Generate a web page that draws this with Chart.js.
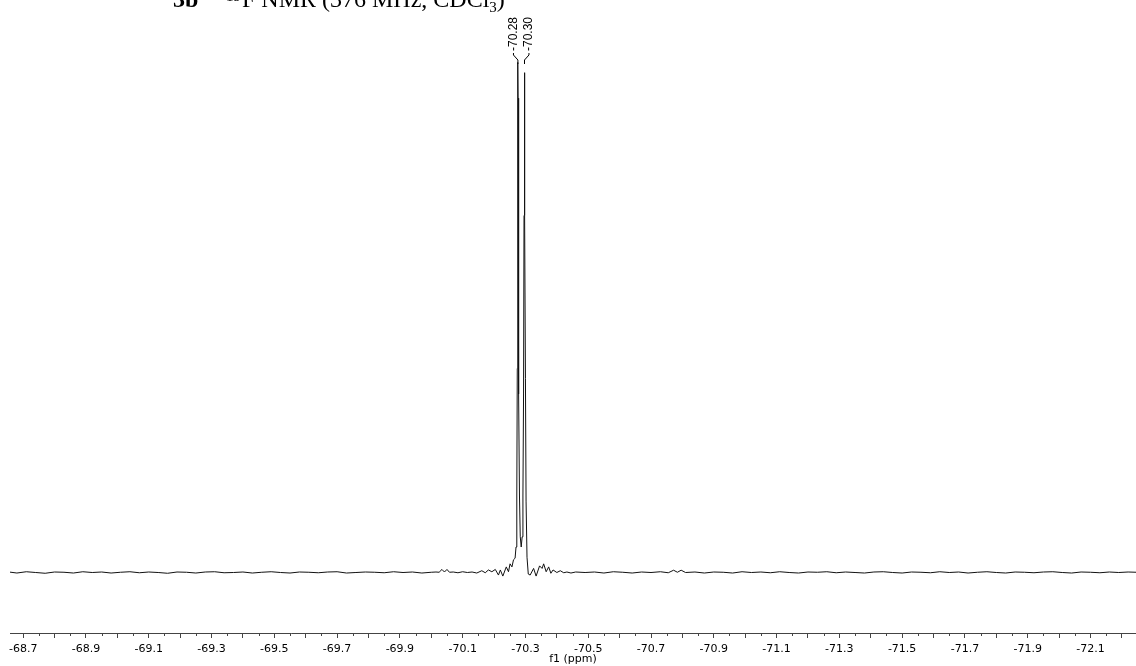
<!DOCTYPE html>
<html>
<head>
<meta charset="utf-8">
<script src="https://cdn.jsdelivr.net/npm/chart.js@4.4.1/dist/chart.umd.min.js"></script>
<style>
  html, body { margin: 0; padding: 0; background: #fff; }
  #wrap { position: relative; width: 1136px; height: 666px; }
</style>
</head>
<body>
<div id="wrap"><canvas id="c" width="1136" height="666"></canvas></div>
<script>
// chemical shift (ppm) and intensity (baseline = 0, tallest peak = 100)
const shifts = [
  -68.655, -68.68, -68.71, -68.74, -68.77, -68.80, -68.83, -68.86, -68.89, -68.92,
  -68.95, -68.98, -69.01, -69.04, -69.07, -69.10, -69.13, -69.16, -69.19, -69.22,
  -69.25, -69.28, -69.31, -69.34, -69.37, -69.40, -69.43, -69.46, -69.49, -69.52,
  -69.55, -69.58, -69.61, -69.64, -69.67, -69.70, -69.73, -69.76, -69.79, -69.82,
  -69.85, -69.88, -69.91, -69.94, -69.97, -70.00,
  -70.015, -70.025, -70.034, -70.042, -70.050, -70.058, -70.07, -70.085, -70.10, -70.115,
  -70.13, -70.145, -70.161, -70.172, -70.182, -70.193, -70.204, -70.214, -70.220, -70.228,
  -70.239, -70.246, -70.251, -70.257, -70.262, -70.267, -70.270, -70.2725, -70.274, -70.275,
  -70.2755, -70.276, -70.2765, -70.2775, -70.279, -70.281, -70.2835, -70.2865, -70.2895, -70.292,
  -70.294, -70.2955, -70.2965, -70.297, -70.2975, -70.2985, -70.300, -70.302, -70.305, -70.309,
  -70.315, -70.326, -70.334, -70.345, -70.353, -70.358, -70.366, -70.374, -70.381, -70.388,
  -70.400, -70.411, -70.422, -70.432, -70.445, -70.46,
  -70.49, -70.52, -70.55, -70.58, -70.61, -70.64, -70.67, -70.70, -70.73, -70.755,
  -70.772, -70.784, -70.796, -70.81, -70.84, -70.87, -70.90, -70.93, -70.96, -70.99,
  -71.02, -71.05, -71.08, -71.11, -71.14, -71.17, -71.20, -71.23, -71.26, -71.29,
  -71.32, -71.35, -71.38, -71.41, -71.44, -71.47, -71.50, -71.53, -71.56, -71.59,
  -71.62, -71.65, -71.68, -71.71, -71.74, -71.77, -71.80, -71.83, -71.86, -71.89,
  -71.92, -71.95, -71.98, -72.01, -72.04, -72.07, -72.10, -72.13, -72.16, -72.19,
  -72.22, -72.245
];
const intensity = [
  0.1, -0.1, 0.15, 0, -0.15, 0.1, 0.05, -0.1, 0.15, 0,
  0.1, -0.1, 0.05, 0.15, -0.05, 0.1, 0, -0.15, 0.1, 0.05,
  -0.1, 0.1, 0.15, -0.05, 0, 0.1, -0.1, 0.05, 0.15, 0,
  -0.1, 0.1, 0.05, -0.05, 0.1, 0.15, -0.1, 0, 0.1, 0.05,
  -0.05, 0.15, 0, 0.1, -0.1, 0.05,
  0.1, 0.05, 0.6, 0.1, 0.6, 0.05, 0.1, -0.05, 0.15, 0,
  0.1, -0.1, 0.35, -0.05, 0.5, 0.15, 0.6, -0.5, 0.5, -0.7,
  1.1, 0.15, 1.7, 1.1, 2.5, 2.8, 5, 15, 40, 70,
  88, 100, 93, 70, 35, 15, 7, 5, 7, 15,
  35, 70, 90, 98, 92, 70, 38, 14, 3, -0.3,
  -0.5, 0.8, -0.7, 1.3, 0.8, 1.7, 0.15, 1.1, -0.15, 0.5,
  0, 0.35, -0.05, 0.1, -0.1, 0.1,
  0, 0.1, -0.1, 0.15, 0.05, -0.1, 0.1, 0, 0.15, -0.05,
  0.45, 0.05, 0.45, 0, 0.1, -0.1, 0.1, 0.05, -0.1, 0.15,
  0, 0.1, -0.05, 0.15, 0, -0.1, 0.1, 0.05, 0.15, -0.05,
  0.1, 0, -0.1, 0.1, 0.15, 0, -0.1, 0.1, 0.05, -0.05,
  0.15, 0, 0.1, -0.1, 0.05, 0.15, 0, -0.1, 0.1, 0.05,
  -0.05, 0.1, 0.15, 0, -0.1, 0.1, 0.05, -0.05, 0.1, 0,
  0.1, 0.05
];
// peak picking annotations
const peakLabels = ['-70.28', '-70.30'];
const peakShifts = [-70.276, -70.297];
// axis range
const axisMin = -72.245;
const axisMax = -68.658;

const points = shifts.map((s, i) => ({ x: s, y: intensity[i] }));

const annotatePlugin = {
  id: 'annotate',
  afterDatasetsDraw(chart) {
    const { ctx } = chart;
    const xs = chart.scales.x;
    ctx.save();
    // minor ticks every 0.05 ppm
    const axisY = chart.chartArea.bottom;
    ctx.strokeStyle = '#444';
    ctx.lineWidth = 1;
    const kStart = Math.ceil(axisMin * 20), kEnd = Math.floor(axisMax * 20);
    for (let k = kStart; k <= kEnd; k++) {
      if (Math.abs(k) % 2 === 1) {
        const px = Math.round(xs.getPixelForValue(k / 20)) + 0.5;
        ctx.beginPath();
        ctx.moveTo(px, axisY);
        ctx.lineTo(px, axisY + 3);
        ctx.stroke();
      }
    }
    // peak labels with connectors
    const pxPeaks = peakShifts.map(v => xs.getPixelForValue(v));
    const mid = (pxPeaks[0] + pxPeaks[pxPeaks.length - 1]) / 2;
    const gap = 15.5;
    ctx.strokeStyle = '#000';
    ctx.fillStyle = '#000';
    ctx.font = '12px "Liberation Sans", Arial, sans-serif';
    peakLabels.forEach((lab, i) => {
      const lx = mid + (i - (peakLabels.length - 1) / 2) * gap;
      const pk = pxPeaks[i];
      ctx.save();
      ctx.translate(lx, 51);
      ctx.rotate(-Math.PI / 2);
      ctx.textAlign = 'left';
      ctx.textBaseline = 'middle';
      ctx.fillText(lab, 0, 0);
      ctx.restore();
      ctx.beginPath();
      ctx.moveTo(lx, 53);
      ctx.lineTo(lx, 55);
      ctx.lineTo(pk, 60);
      ctx.lineTo(pk, 64);
      ctx.stroke();
    });
    // header text (clipped at top)
    let x = 173;
    const base = 7;
    ctx.textAlign = 'left';
    ctx.textBaseline = 'alphabetic';
    ctx.font = 'bold 24px "Liberation Serif", "Times New Roman", serif';
    ctx.fillText('3b', x, base);
    x = 226;
    ctx.font = '15px "Liberation Serif", "Times New Roman", serif';
    ctx.fillText('19', x, base - 6);
    x += ctx.measureText('19').width + 1;
    ctx.font = '24px "Liberation Serif", "Times New Roman", serif';
    const main = 'F NMR (376 MHz, CDCl';
    ctx.fillText(main, x, base);
    x += ctx.measureText(main).width;
    ctx.font = '15px "Liberation Serif", "Times New Roman", serif';
    ctx.fillText('3', x, base + 5);
    x += ctx.measureText('3').width;
    ctx.font = '24px "Liberation Serif", "Times New Roman", serif';
    ctx.fillText(')', x, base);
    ctx.restore();
  }
};

new Chart(document.getElementById('c'), {
  type: 'line',
  data: {
    datasets: [{
      data: points,
      borderColor: '#111',
      borderWidth: 1,
      pointRadius: 0,
      tension: 0,
      fill: false
    }]
  },
  options: {
    responsive: false,
    animation: false,
    events: [],
    layout: { padding: { left: 10, right: 0, top: 0, bottom: 0 } },
    plugins: { legend: { display: false }, tooltip: { enabled: false }, title: { display: false } },
    scales: {
      x: {
        type: 'linear',
        reverse: true,
        min: axisMin,
        max: axisMax,
        afterFit: (scale) => { scale.height = 33; },
        border: { display: true, color: '#444', width: 1 },
        grid: { display: true, drawOnChartArea: false, drawTicks: true, tickLength: 5, tickColor: '#444', tickWidth: 1 },
        ticks: {
          stepSize: 0.1,
          includeBounds: false,
          autoSkip: false,
          maxRotation: 0,
          minRotation: 0,
          padding: 5,
          color: '#000',
          font: { family: '"DejaVu Sans", Verdana, sans-serif', size: 11 },
          callback: (v) => {
            const t = Math.round(v * 10);
            return Math.abs(t) % 2 === 1 ? (t / 10).toFixed(1) : '';
          }
        },
        title: {
          display: true,
          text: 'f1 (ppm)',
          color: '#000',
          font: { family: '"DejaVu Sans", Verdana, sans-serif', size: 11 },
          padding: { top: 0, bottom: 0 }
        }
      },
      y: {
        display: false,
        min: -11.86,
        max: 112.25
      }
    }
  },
  plugins: [annotatePlugin]
});
</script>
</body>
</html>
